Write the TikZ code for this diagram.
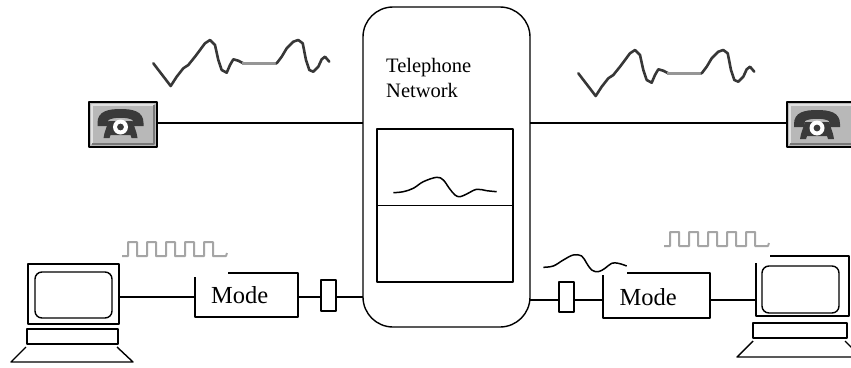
\documentclass[tikz,border=0pt]{standalone}
\usepackage{fontspec}
\setmainfont{Liberation Serif}
\definecolor{icon}{RGB}{58,58,58}
\definecolor{phonegray}{RGB}{184,184,184}
\definecolor{phonelight}{RGB}{225,225,225}
\definecolor{phonedark}{RGB}{120,120,120}
\definecolor{wavedark}{RGB}{55,55,55}
\definecolor{waveflat}{RGB}{150,150,150}
\definecolor{pulsegray}{RGB}{165,165,165}
\begin{document}
\begin{tikzpicture}[x=1pt,y=-1pt,line join=round,
  box/.style={draw,line width=1.4pt,inner sep=0pt,outer sep=0pt},
  wire/.style={line width=1.4pt},
  netbox/.style={box,rounded corners=30pt,minimum width=167pt,minimum height=320pt},
  modembox/.style={box},
  plugbox/.style={box,minimum width=15pt},
  phonebox/.style={draw=black,line width=2pt,fill=phonegray,inner sep=0pt,outer sep=0pt,
    minimum width=68pt,minimum height=45pt},
  screenbox/.style={box,rounded corners=7pt},
  lbl/.style={inner sep=0pt,anchor=base west},
  signal/.style={line width=1.5pt,black},
  phoneicon/.pic={
    \fill[icon] (-23,-1) .. controls (-23,-13) and (-12,-15) .. (0,-15)
      .. controls (12,-15) and (23,-13) .. (23,-1) -- (23,2) -- (13,2) -- (12,-4)
      .. controls (7,-7) and (-7,-7) .. (-12,-4) -- (-13,2) -- (-23,2) -- cycle;
    \fill[icon] (-12,-3) -- (12,-3) -- (16,9) -- (17,14) -- (11,14) -- (10,11)
      -- (-10,11) -- (-11,14) -- (-17,14) -- (-16,9) -- cycle;
    \fill[white] (0,3) circle[radius=7.5pt];
    \fill[icon] (0,3) circle[radius=3.4pt];
  },
  voicewave/.pic={
    \draw[wavedark,line width=2.6pt,line cap=round]
      (0,0) -- (17.4,22.7) -- (23.4,13.4) -- (30,5) -- (35,1.7) -- (41.7,-6.6)
      -- (46.7,-13.3) -- (51.7,-20) -- (56.7,-23.3) -- (61.7,-18.3) -- (65,-3.3)
      -- (68.4,6.7) -- (73.4,9.4) -- (76.7,1.7) -- (80,-4) -- (85,-2.6) -- (90,0);
    \draw[waveflat,line width=3.4pt] (89,0) -- (124,0);
    \draw[wavedark,line width=2.6pt,line cap=round]
      (123.4,0) -- (128.4,-6.6) -- (133.4,-15) -- (140,-21.6) -- (145,-23.3)
      -- (149.4,-20) -- (152.7,-3.3) -- (156,6.7) -- (160,8.4) -- (165,3.4)
      -- (168.4,-4) -- (171.7,-6.6) -- (176,-1.6);
  },
  pulses/.pic={
    \draw[pulsegray,line width=2pt]
      (0,0) -- (6,0) -- (6,-14) -- (15,-14) -- (15,0) -- (25,0) -- (25,-14)
      -- (34,-14) -- (34,0) -- (44,0) -- (44,-14) -- (53,-14) -- (53,0)
      -- (63,0) -- (63,-14) -- (72,-14) -- (72,0) -- (82,0) -- (82,-14)
      -- (91,-14) -- (91,0) -- (104,0) -- (105,-3);
  }
]
\useasboundingbox (0,0) rectangle (851,367);

% telephone network exchange
\node[netbox] (net) at (446.5,167) {};
\node[box,minimum width=136pt,minimum height=153pt] (exch) at (445,205.5) {};
\draw[wire] (exch.west) -- (exch.east);
\node[lbl,font=\fontsize{20.5}{24}\selectfont] (lblA) at (386,72) {Telephone};
\node[lbl,font=\fontsize{20.5}{24}\selectfont] (lblB) at (386,97) {Network};
\draw[signal] plot[smooth,tension=0.6] coordinates {(393.3,192.7) (403.3,191.7)
  (413.3,188.3) (423.3,181.7) (436.7,177.3) (443.3,180) (449.3,188.3) (455,195)
  (460,196.7) (466.7,194) (476.7,189.3) (486.7,190.7) (496.7,191.7)};

% telephones
\node[phonebox] (phL) at (123,124.5) {};
\node[phonebox] (phR) at (821,124.5) {};
\foreach \p in {phL,phR}{
  \draw[phonelight,line width=1.5pt] ([shift={(3pt,3pt)}]\p.south west) |- ([shift={(-3pt,-3pt)}]\p.north east);
  \draw[phonedark,line width=1.5pt] ([shift={(3pt,3pt)}]\p.south west) -| ([shift={(-3pt,-3pt)}]\p.north east);
}
\pic at (120.5,124) {phoneicon};
\pic at (817,125) {phoneicon};

% computers
\node[box,minimum width=91pt,minimum height=60pt] (pcL) at (73.5,294) {};
\node[screenbox,minimum width=77pt,minimum height=46pt] (scrL) at (73.5,295) {};
\node[box,minimum width=91pt,minimum height=15pt] (kbL) at (72.5,336.5) {};
\draw[wire] (26,347) -- (11,362) -- (133,362) -- (117,347);

\node[box,minimum width=93pt,minimum height=60pt] (pcR) at (802.5,286) {};
\node[screenbox,minimum width=77pt,minimum height=47pt] (scrR) at (800.5,289.5) {};
\node[box,minimum width=94pt,minimum height=15pt] (kbR) at (800,330.5) {};
\draw[wire] (753,341) -- (737,357) -- (870,357);
\draw[wire] (845,341) -- (861,357);

% modems and line plugs
\node[modembox,minimum width=103pt,minimum height=44pt] (mL) at (246.5,295) {};
\node[lbl,font=\fontsize{24.5}{28}\selectfont] (mLt) at (211,303) {Mode};
\node[modembox,minimum width=107pt,minimum height=45pt] (mR) at (656.5,295.5) {};
\node[lbl,font=\fontsize{24.5}{28}\selectfont] (mRt) at (619.5,305) {Mode};
\node[plugbox,minimum height=31pt] (pL) at (328.5,295.5) {};
\node[plugbox,minimum height=30pt] (pR) at (566.5,297) {};

% lines
\coordinate (busT) at (0,123);
\coordinate (busL) at (0,297);
\coordinate (busR) at (0,300);
\draw[wire] (phL.east |- busT) -- (net.west |- busT);
\draw[wire] (net.east |- busT) -- (phR.west |- busT);
\draw[wire] (pcL.east |- busL) -- (mL.west |- busL);
\draw[wire] (mL.east |- busL) -- (pL.west |- busL);
\draw[wire] (pL.east |- busL) -- (net.west |- busL);
\draw[wire] (net.east |- busR) -- (pR.west |- busR);
\draw[wire] (pR.east |- busR) -- (mR.west |- busR);
\draw[wire] (mR.east |- busR) -- (pcR.west |- busR);

% signal sketches on white backgrounds
\pic at (153.3,63.3) {voicewave};
\pic at (578.3,73.3) {voicewave};
\fill[white] (120,233) rectangle (228,276.5);
\pic at (122,256) {pulses};
\fill[white] (660,224) rectangle (770,263);
\pic at (664,246) {pulses};
\fill[white] (541,248) rectangle (627,274.5);
\draw[signal] plot[smooth,tension=0.6] coordinates {(543.3,267.3) (553.3,266)
  (563.3,260) (573.3,255) (581.7,256) (586.7,263.3) (591.7,270) (598.3,271.7)
  (605,268.3) (611.7,263.3) (618.3,263.3) (626.7,266)};
\end{tikzpicture}
\end{document}
